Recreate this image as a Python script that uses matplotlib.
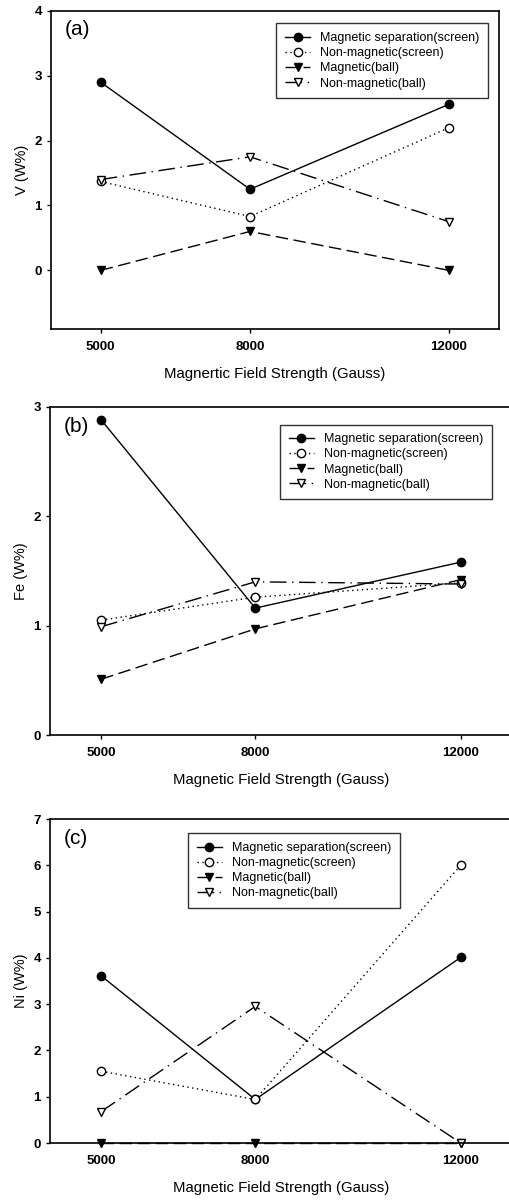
import numpy as np
import matplotlib
matplotlib.use('Agg')
import matplotlib.pyplot as plt

plt.rcParams['font.family'] = ['Liberation Sans', 'DejaVu Sans']

field = [5000, 8000, 12000]
series_names = ['Magnetic separation(screen)', 'Non-magnetic(screen)',
                'Magnetic(ball)', 'Non-magnetic(ball)']

v_vals = [[2.9, 1.25, 2.56],
          [1.37, 0.83, 2.2],
          [0.0, 0.6, 0.0],
          [1.4, 1.75, 0.75]]
fe_vals = [[2.88, 1.16, 1.58],
           [1.05, 1.26, 1.39],
           [0.51, 0.97, 1.42],
           [0.99, 1.40, 1.38]]
ni_vals = [[3.61, 0.94, 4.01],
           [1.55, 0.94, 6.0],
           [0.0, 0.0, 0.0],
           [0.68, 2.95, 0.0]]

styles = [dict(ls='-', marker='o', mfc='black'),
          dict(ls=(0, (1, 2.5)), marker='o', mfc='white'),
          dict(ls=(0, (9, 4)), marker='v', mfc='black'),
          dict(ls=(0, (12, 4, 1, 4)), marker='v', mfc='white')]

fig = plt.figure(figsize=(5.09, 12), dpi=100)

def panel(rect, vals, ylim, yticks, ylabel, xlabel, tag, leg_loc, leg_anchor):
    ax = fig.add_axes(rect)
    for v, st, nm in zip(vals, styles, series_names):
        ax.plot(field, v, color='black', lw=1.0, ms=6, mec='black',
                mew=1.0, label=nm, clip_on=False, **st)
    ax.set_xlim(4000, 13000)
    ax.set_ylim(*ylim)
    ax.set_xticks(field)
    ax.set_yticks(yticks)
    ax.tick_params(direction='out', labelsize=9.5, length=3, width=1)
    ax.tick_params(axis='x', pad=6)
    for lab in ax.get_xticklabels() + ax.get_yticklabels():
        lab.set_fontweight('bold')
    for s in ax.spines.values():
        s.set_linewidth(1.2)
    ax.set_ylabel(ylabel, fontsize=10.5)
    ax.set_xlabel(xlabel, fontsize=10.8, labelpad=10)
    ax.text(0.03, 0.97, tag, transform=ax.transAxes, fontsize=15,
            va='top', ha='left')
    leg = ax.legend(loc=leg_loc, bbox_to_anchor=leg_anchor, fontsize=9,
                    handlelength=2.0, frameon=True, fancybox=False,
                    edgecolor='black', borderpad=0.7, labelspacing=0.25)
    leg.get_frame().set_linewidth(1.0)
    return ax

panel([0.100, 0.726, 0.880, 0.265], v_vals, (-0.9, 4), [0, 1, 2, 3, 4],
      'V (W%)', 'Magnertic Field Strength (Gauss)', '(a)',
      'upper right', (0.99, 0.98))
panel([0.098, 0.3875, 0.908, 0.2735], fe_vals, (0, 3), [0, 1, 2, 3],
      'Fe (W%)', 'Magnetic Field Strength (Gauss)', '(b)',
      'upper right', (0.97, 0.965))
panel([0.098, 0.0475, 0.908, 0.270], ni_vals, (0, 7), list(range(8)),
      'Ni (W%)', 'Magnetic Field Strength (Gauss)', '(c)',
      'upper left', (0.285, 0.975))

fig.savefig('out.png', dpi=100)
